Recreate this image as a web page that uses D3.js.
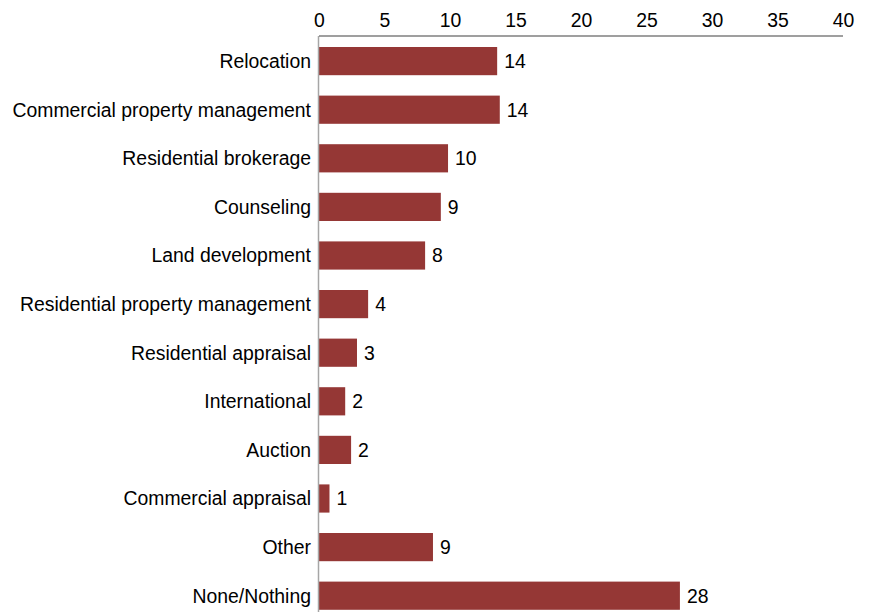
<!DOCTYPE html>
<html>
<head>
<meta charset="utf-8">
<script src="https://cdn.jsdelivr.net/npm/d3@7"></script>
<style>
  html, body { margin: 0; padding: 0; background: #fff; }
  svg { display: block; font-family: "Liberation Sans", Arial, sans-serif; }
</style>
</head>
<body>
<svg id="chart" width="869" height="612"></svg>
<script>
// Services offered, share of respondents
const categories = [
  "Relocation",
  "Commercial property management",
  "Residential brokerage",
  "Counseling",
  "Land development",
  "Residential property management",
  "Residential appraisal",
  "International",
  "Auction",
  "Commercial appraisal",
  "Other",
  "None/Nothing"
];
const values = [13.6, 13.8, 9.85, 9.3, 8.1, 3.75, 2.9, 2.0, 2.45, 0.8, 8.7, 27.55];
const xTicks = [0, 5, 10, 15, 20, 25, 30, 35, 40];

const svg = d3.select("#chart");
const plotLeft = 319, plotRight = 843, plotTop = 36;
const step = 48.6;
const bandStart = plotTop + 0.8;

const x = d3.scaleLinear().domain([0, 40]).range([plotLeft, plotRight]);
const y = d3.scaleBand()
  .domain(categories)
  .range([bandStart, bandStart + step * categories.length])
  .paddingInner(0.42)
  .paddingOuter(0.21);

const fontSize = 19.4;

// Bars
svg.append("g").selectAll("rect")
  .data(values)
  .join("rect")
  .attr("x", x(0))
  .attr("y", (d, i) => y(categories[i]))
  .attr("width", d => x(d) - x(0))
  .attr("height", y.bandwidth())
  .attr("fill", "#953735");

// Value labels
svg.append("g").selectAll("text")
  .data(values)
  .join("text")
  .attr("x", d => x(d) + 7)
  .attr("y", (d, i) => y(categories[i]) + y.bandwidth() / 2)
  .attr("dy", "0.36em")
  .attr("font-size", fontSize)
  .attr("fill", "#000")
  .text(d => d3.format(".0f")(d));

// Category axis (left)
const yAxis = svg.append("g")
  .attr("transform", `translate(${plotLeft},0)`)
  .call(d3.axisLeft(y).tickSize(0).tickPadding(8));
yAxis.select(".domain").remove();
yAxis.append("line")
  .attr("x1", -0.5).attr("x2", -0.5)
  .attr("y1", plotTop).attr("y2", 612)
  .attr("stroke", "#a6a6a6").attr("stroke-width", 1.5);
yAxis.selectAll("text")
  .attr("font-size", fontSize)
  .attr("dy", "0.36em")
  .attr("font-family", "Liberation Sans, Arial, sans-serif")
  .attr("fill", "#000");

// Value axis (top)
const xAxis = svg.append("g")
  .attr("transform", `translate(0,${plotTop})`)
  .call(d3.axisTop(x).tickValues(xTicks).tickSize(0).tickPadding(9));
xAxis.select(".domain")
  .attr("stroke", "#404040").attr("stroke-width", 1.2)
  .attr("d", `M${plotLeft},0H${plotRight}`);
xAxis.selectAll("text")
  .attr("font-size", fontSize)
  .attr("font-family", "Liberation Sans, Arial, sans-serif")
  .attr("fill", "#000");
</script>
</body>
</html>
